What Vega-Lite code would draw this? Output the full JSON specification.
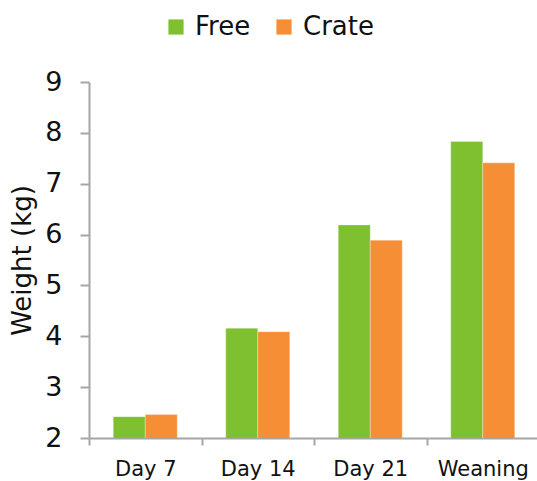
{
  "$schema": "https://vega.github.io/schema/vega-lite/v6.json",
  "width": 450,
  "height": 356,
  "autosize": {"type": "none"},
  "padding": {"left": 89, "top": 82, "right": 0, "bottom": 43},
  "background": "white",
  "config": {"view": {"stroke": null}, "font": "DejaVu Sans"},
  "data": {"values": [
    {"day": "Day 7", "housing": "Free", "weight": 2.42},
    {"day": "Day 7", "housing": "Crate", "weight": 2.46},
    {"day": "Day 14", "housing": "Free", "weight": 4.16},
    {"day": "Day 14", "housing": "Crate", "weight": 4.09},
    {"day": "Day 21", "housing": "Free", "weight": 6.19},
    {"day": "Day 21", "housing": "Crate", "weight": 5.89},
    {"day": "Weaning", "housing": "Free", "weight": 7.83},
    {"day": "Weaning", "housing": "Crate", "weight": 7.41}
  ]},
  "mark": {"type": "bar", "clip": true, "stroke": "white", "strokeWidth": 0.5, "strokeOpacity": 0.6},
  "encoding": {
    "x": {
      "field": "day", "type": "nominal", "sort": ["Day 7", "Day 14", "Day 21", "Weaning"],
      "scale": {"paddingInner": 0, "paddingOuter": 0},
      "axis": {"title": null, "labelAngle": 0, "labelFontSize": 21, "labelColor": "#111", "labelPadding": 13,
               "tickBand": "extent", "tickSize": 7, "tickColor": "#a6a6a6", "domainColor": "#a6a6a6", "domainWidth": 2, "tickWidth": 2}
    },
    "xOffset": {"field": "housing", "type": "nominal", "sort": ["Free", "Crate"],
      "scale": {"paddingInner": 0, "paddingOuter": 0.758}},
    "y": {
      "field": "weight", "type": "quantitative",
      "scale": {"domain": [2, 9], "zero": false, "nice": false},
      "axis": {"title": "Weight (kg)", "titleFontSize": 26, "titleFontWeight": "normal", "titleColor": "#111", "titlePadding": 9,
               "values": [2, 3, 4, 5, 6, 7, 8, 9], "grid": false, "labelFontSize": 27, "labelColor": "#111", "labelPadding": 18,
               "tickSize": 9, "tickColor": "#a6a6a6", "domainColor": "#a6a6a6", "domainWidth": 2, "tickWidth": 2}
    },
    "color": {
      "field": "housing", "type": "nominal", "sort": ["Free", "Crate"],
      "scale": {"domain": ["Free", "Crate"], "range": ["#7fc031", "#f68e35"]},
      "legend": {"title": null, "orient": "none", "legendX": 74, "legendY": -68, "direction": "horizontal",
                 "symbolType": "square", "symbolSize": 230, "symbolStrokeWidth": 0, "labelFontSize": 26, "labelColor": "#111",
                 "labelOffset": 6, "columnPadding": 20, "symbolOpacity": 1}
    }
  }
}
